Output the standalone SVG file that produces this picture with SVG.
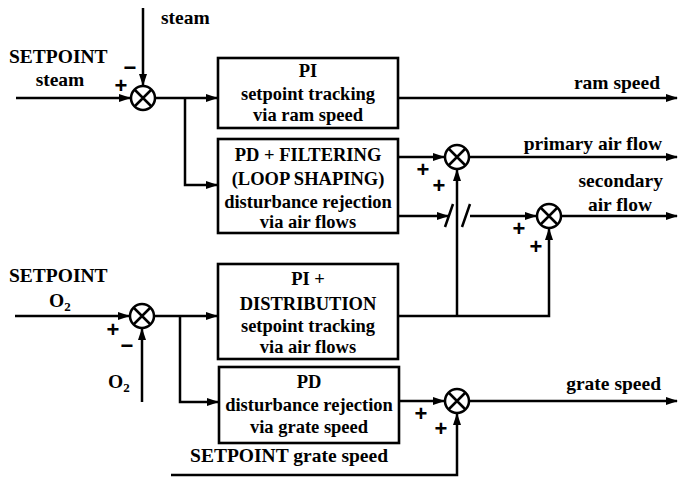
<svg xmlns="http://www.w3.org/2000/svg" width="680" height="478" viewBox="0 0 680 478">
<style>
.ln{fill:none;stroke:#000;stroke-width:2.5}
.ar{marker-end:url(#ah)}
.box{fill:#fff;stroke:#000;stroke-width:2.6}
.sum{fill:#fff;stroke:#000;stroke-width:2.5}
.t{font-family:"Liberation Serif","Times New Roman",serif;font-weight:bold;font-size:19.5px;fill:#000}
.bt{font-family:"Liberation Serif","Times New Roman",serif;font-weight:bold;font-size:18.5px;fill:#000;text-anchor:middle}
.sg{font-family:"Liberation Sans",Arial,sans-serif;font-weight:bold;font-size:22px;fill:#000;text-anchor:middle}
</style>
<defs>
<marker id="ah" viewBox="0 0 12 8" refX="11" refY="4" markerWidth="12" markerHeight="8" markerUnits="userSpaceOnUse" orient="auto">
<path d="M0,0 L12,4 L0,8 z" fill="#000"/>
</marker>
<g id="sj">
<circle cx="0" cy="0" r="12" class="sum"/>
<path d="M-8.5,-8.5 L8.5,8.5 M-8.5,8.5 L8.5,-8.5" class="ln"/>
</g>
</defs>
<rect width="680" height="478" fill="#fff"/>

<g id="connectors">
<path class="ln ar" d="M16,98 H130"/>
<path class="ln ar" d="M143,8 V85"/>
<path class="ln ar" d="M155,98 H217"/>
<path class="ln ar" d="M185,98 V185 H217"/>
<path class="ln ar" d="M398,98 H677"/>
<path class="ln ar" d="M398,157 H444"/>
<path class="ln ar" d="M469,157 H677"/>
<path class="ln ar" d="M398,216 H448"/>
<path class="ln" d="M445,227 L453,204 M462,227 L470,204"/>
<path class="ln ar" d="M470,216 H536"/>
<path class="ln ar" d="M561,216 H677"/>
<path class="ln ar" d="M398,316 H549 V229"/>
<path class="ln ar" d="M457,316 V170"/>
<path class="ln ar" d="M15,316 H129"/>
<path class="ln ar" d="M142,402 V329"/>
<path class="ln ar" d="M154,316 H217"/>
<path class="ln ar" d="M180,316 V402 H218"/>
<path class="ln ar" d="M399,401 H444"/>
<path class="ln ar" d="M469,401 H677"/>
<path class="ln ar" d="M171,475 H457 V414"/>
</g>

<g id="sum1"><use href="#sj" x="143" y="98"/></g>
<g id="sum2"><use href="#sj" x="457" y="157"/></g>
<g id="sum3"><use href="#sj" x="549" y="216"/></g>
<g id="sum4"><use href="#sj" x="457" y="401"/></g>
<g id="sum5"><use href="#sj" x="142" y="316"/></g>

<g id="box-pi">
<rect class="box" x="218" y="58" width="180" height="70"/>
<text class="bt" x="308" y="77">PI</text>
<text class="bt" x="308" y="100">setpoint tracking</text>
<text class="bt" x="308" y="121">via ram speed</text>
</g>
<g id="box-pd-filter">
<rect class="box" x="218" y="139" width="180" height="94"/>
<text class="bt" x="308" y="161">PD + FILTERING</text>
<text class="bt" x="308" y="185">(LOOP SHAPING)</text>
<text class="bt" x="308" y="208">disturbance rejection</text>
<text class="bt" x="308" y="228">via air flows</text>
</g>
<g id="box-pi-dist">
<rect class="box" x="218" y="264" width="180" height="95"/>
<text class="bt" x="308" y="285">PI +</text>
<text class="bt" x="308" y="310">DISTRIBUTION</text>
<text class="bt" x="308" y="332">setpoint tracking</text>
<text class="bt" x="308" y="353">via air flows</text>
</g>
<g id="box-pd">
<rect class="box" x="219" y="367" width="180" height="76"/>
<text class="bt" x="309" y="388">PD</text>
<text class="bt" x="309" y="411">disturbance rejection</text>
<text class="bt" x="309" y="433">via grate speed</text>
</g>

<g id="labels">
<text class="t" x="161" y="24">steam</text>
<text class="t" x="9" y="63">SETPOINT</text>
<text class="t" x="60" y="86" text-anchor="middle">steam</text>
<text class="t" x="660" y="89" text-anchor="end">ram speed</text>
<text class="t" x="662" y="150" text-anchor="end">primary air flow</text>
<text class="t" x="663" y="187" text-anchor="end">secondary</text>
<text class="t" x="620" y="211" text-anchor="middle">air flow</text>
<text class="t" x="9" y="282">SETPOINT</text>
<text class="t" x="49" y="307">O<tspan font-size="13px" dy="4">2</tspan></text>
<text class="t" x="108" y="388">O<tspan font-size="13px" dy="4">2</tspan></text>
<text class="t" x="661" y="390" text-anchor="end">grate speed</text>
<text class="t" x="388" y="462" text-anchor="end">SETPOINT grate speed</text>
</g>

<g id="signs">
<text class="sg" x="130" y="75">−</text>
<text class="sg" x="121" y="93">+</text>
<text class="sg" x="423" y="177">+</text>
<text class="sg" x="439" y="193">+</text>
<text class="sg" x="519" y="236">+</text>
<text class="sg" x="536" y="254">+</text>
<text class="sg" x="421" y="421">+</text>
<text class="sg" x="441" y="436">+</text>
<text class="sg" x="113" y="337">+</text>
<text class="sg" x="127" y="353">−</text>
</g>
</svg>
